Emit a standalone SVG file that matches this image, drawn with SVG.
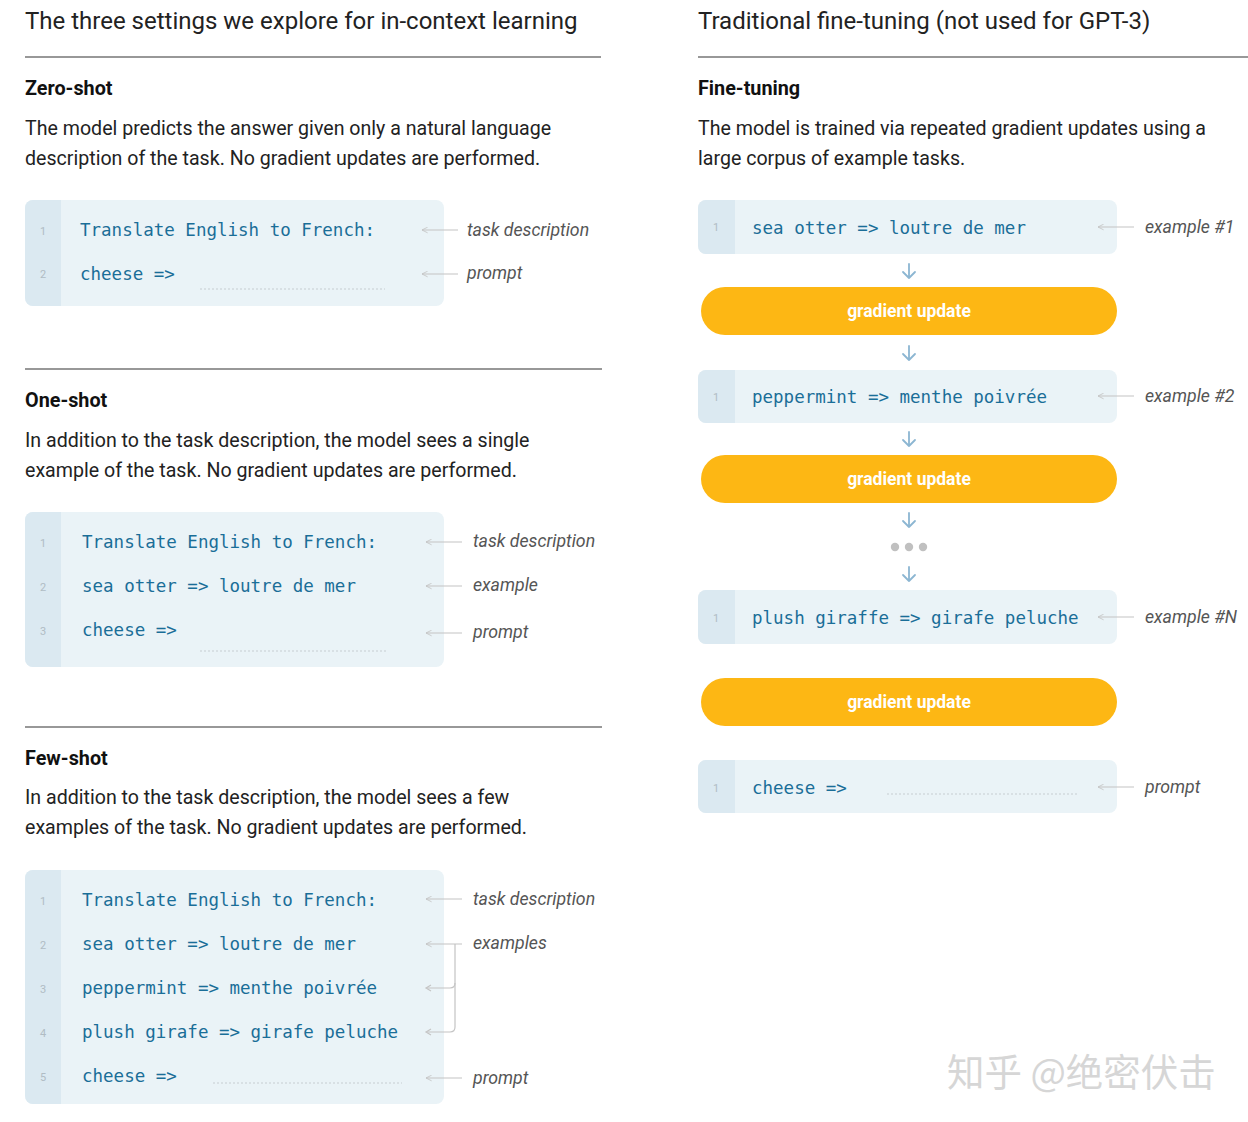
<svg xmlns="http://www.w3.org/2000/svg" width="1248" height="1122" viewBox="0 0 1248 1122">
<style>
.title{font-family:Roboto,"Liberation Sans",sans-serif;font-size:24px;fill:#222}
.h{font-family:Roboto,"Liberation Sans",sans-serif;font-size:19.8px;font-weight:bold;fill:#111}
.body{font-family:Roboto,"Liberation Sans",sans-serif;font-size:19.6px;fill:#222}
.code{font-family:"DejaVu Sans Mono","Liberation Mono",monospace;font-size:17.5px;fill:#1a6e98}
.ln{font-family:Roboto,"Liberation Sans",sans-serif;font-size:11px;fill:#b0bcc4}
.lab{font-family:Roboto,"Liberation Sans",sans-serif;font-size:17.7px;font-style:italic;fill:#555}
.sep{stroke:#333;stroke-width:1.2}
.box{fill:#eaf3f7}
.gut{fill:#dbe9f1}
.dot{stroke:#c5cdd2;stroke-width:1.2;stroke-dasharray:2 2;fill:none}
.ptr{stroke:#c4c4c4;stroke-width:1.2;fill:none}
.down{stroke:#8cb6d2;stroke-width:1.8;fill:none;stroke-linecap:round;stroke-linejoin:round}
.pill{fill:#fdb714}
.pt{font-family:Roboto,"Liberation Sans",sans-serif;font-size:17.5px;font-weight:bold;fill:#fff}
.wm{font-family:"Noto Sans CJK SC",sans-serif;font-size:37.5px;fill:#d6d6d6}
</style>
<defs>
<marker id="la" viewBox="0 0 10 10" refX="9" refY="5" markerWidth="7" markerHeight="7" orient="auto" markerUnits="userSpaceOnUse">
<path d="M1,1 L9,5 L1,9" fill="none" stroke="#c4c4c4" stroke-width="1.2"/>
</marker>
</defs>

<!-- Left column -->
<g id="left-header">
<text class="title" x="25" y="29">The three settings we explore for in-context learning</text>
<line class="sep" x1="25" y1="57" x2="601" y2="57"/>
</g>

<g id="zero-shot">
<text class="h" x="25" y="95">Zero-shot</text>
<text class="body" x="25" y="135">The model predicts the answer given only a natural language</text>
<text class="body" x="25" y="165">description of the task. No gradient updates are performed.</text>
<rect class="box" x="25" y="200" width="419" height="106" rx="8"/>
<path class="gut" d="M33,200 H61 V306 H33 A8,8 0 0 1 25,298 V208 A8,8 0 0 1 33,200 Z"/>
<text class="ln" x="43" y="235" text-anchor="middle">1</text>
<text class="ln" x="43" y="278" text-anchor="middle">2</text>
<text class="code" x="80" y="236">Translate English to French:</text>
<text class="code" x="80" y="280">cheese =&gt;</text>
<line class="dot" x1="200" y1="289" x2="385" y2="289"/>
<text class="lab" x="467" y="236">task description</text>
<text class="lab" x="467" y="279">prompt</text>
</g>

<line class="sep" x1="25" y1="369" x2="602" y2="369"/>

<g id="one-shot">
<text class="h" x="25" y="407">One-shot</text>
<text class="body" x="25" y="447">In addition to the task description, the model sees a single</text>
<text class="body" x="25" y="477">example of the task. No gradient updates are performed.</text>
<rect class="box" x="25" y="512" width="419" height="155" rx="8"/>
<path class="gut" d="M33,512 H61 V667 H33 A8,8 0 0 1 25,659 V520 A8,8 0 0 1 33,512 Z"/>
<text class="ln" x="43" y="547" text-anchor="middle">1</text>
<text class="ln" x="43" y="591" text-anchor="middle">2</text>
<text class="ln" x="43" y="635" text-anchor="middle">3</text>
<text class="code" x="82" y="548">Translate English to French:</text>
<text class="code" x="82" y="592">sea otter =&gt; loutre de mer</text>
<text class="code" x="82" y="636">cheese =&gt;</text>
<line class="dot" x1="200" y1="651" x2="388" y2="651"/>
<text class="lab" x="473" y="547">task description</text>
<text class="lab" x="473" y="591">example</text>
<text class="lab" x="473" y="638">prompt</text>
</g>

<line class="sep" x1="25" y1="727" x2="602" y2="727"/>

<g id="few-shot">
<text class="h" x="25" y="765">Few-shot</text>
<text class="body" x="25" y="804">In addition to the task description, the model sees a few</text>
<text class="body" x="25" y="834">examples of the task. No gradient updates are performed.</text>
<rect class="box" x="25" y="870" width="419" height="234" rx="8"/>
<path class="gut" d="M33,870 H61 V1104 H33 A8,8 0 0 1 25,1096 V878 A8,8 0 0 1 33,870 Z"/>
<text class="ln" x="43" y="905" text-anchor="middle">1</text>
<text class="ln" x="43" y="949" text-anchor="middle">2</text>
<text class="ln" x="43" y="993" text-anchor="middle">3</text>
<text class="ln" x="43" y="1037" text-anchor="middle">4</text>
<text class="ln" x="43" y="1081" text-anchor="middle">5</text>
<text class="code" x="82" y="906">Translate English to French:</text>
<text class="code" x="82" y="950">sea otter =&gt; loutre de mer</text>
<text class="code" x="82" y="994">peppermint =&gt; menthe poivrée</text>
<text class="code" x="82" y="1038">plush girafe =&gt; girafe peluche</text>
<text class="code" x="82" y="1082">cheese =&gt;</text>
<line class="dot" x1="213" y1="1083" x2="402" y2="1083"/>
<text class="lab" x="473" y="905">task description</text>
<text class="lab" x="473" y="949">examples</text>
<text class="lab" x="473" y="1084">prompt</text>
</g>

<!-- Right column -->
<g id="right-header">
<text class="title" x="698" y="29">Traditional fine-tuning (not used for GPT-3)</text>
<line class="sep" x1="698" y1="57" x2="1248" y2="57"/>
<text class="h" x="698" y="95">Fine-tuning</text>
<text class="body" x="698" y="135">The model is trained via repeated gradient updates using a</text>
<text class="body" x="698" y="165">large corpus of example tasks.</text>
</g>

<g id="ft-example-1">
<rect class="box" x="698" y="200" width="419" height="54" rx="8"/>
<path class="gut" d="M706,200 H735 V254 H706 A8,8 0 0 1 698,246 V208 A8,8 0 0 1 706,200 Z"/>
<text class="ln" x="716" y="231" text-anchor="middle">1</text>
<text class="code" x="752" y="234">sea otter =&gt; loutre de mer</text>
<text class="lab" x="1145" y="233">example #1</text>
</g>

<g id="ft-update-1">
<rect class="pill" x="701" y="287" width="416" height="48" rx="24"/>
<text class="pt" x="909" y="317" text-anchor="middle">gradient update</text>
</g>

<g id="ft-example-2">
<rect class="box" x="698" y="370" width="419" height="53" rx="8"/>
<path class="gut" d="M706,370 H735 V423 H706 A8,8 0 0 1 698,415 V378 A8,8 0 0 1 706,370 Z"/>
<text class="ln" x="716" y="401" text-anchor="middle">1</text>
<text class="code" x="752" y="403">peppermint =&gt; menthe poivrée</text>
<text class="lab" x="1145" y="402">example #2</text>
</g>

<g id="ft-update-2">
<rect class="pill" x="701" y="455" width="416" height="48" rx="24"/>
<text class="pt" x="909" y="485" text-anchor="middle">gradient update</text>
</g>

<g id="ft-ellipsis">
<circle cx="895" cy="547" r="4.2" fill="#c0c0c0"/>
<circle cx="909" cy="547" r="4.2" fill="#c0c0c0"/>
<circle cx="923" cy="547" r="4.2" fill="#c0c0c0"/>
</g>

<g id="ft-example-n">
<rect class="box" x="698" y="590" width="419" height="54" rx="8"/>
<path class="gut" d="M706,590 H735 V644 H706 A8,8 0 0 1 698,636 V598 A8,8 0 0 1 706,590 Z"/>
<text class="ln" x="716" y="622" text-anchor="middle">1</text>
<text class="code" x="752" y="624">plush giraffe =&gt; girafe peluche</text>
<text class="lab" x="1145" y="623">example #N</text>
</g>

<g id="ft-update-3">
<rect class="pill" x="701" y="678" width="416" height="48" rx="24"/>
<text class="pt" x="909" y="708" text-anchor="middle">gradient update</text>
</g>

<g id="ft-prompt">
<rect class="box" x="698" y="760" width="419" height="53" rx="8"/>
<path class="gut" d="M706,760 H735 V813 H706 A8,8 0 0 1 698,805 V768 A8,8 0 0 1 706,760 Z"/>
<text class="ln" x="716" y="792" text-anchor="middle">1</text>
<text class="code" x="752" y="794">cheese =&gt;</text>
<line class="dot" x1="887" y1="794" x2="1078" y2="794"/>
<text class="lab" x="1145" y="793">prompt</text>
</g>

<g id="connectors">
<line class="ptr" x1="458" y1="230" x2="422" y2="230" marker-end="url(#la)"/>
<line class="ptr" x1="458" y1="274" x2="422" y2="274" marker-end="url(#la)"/>
<line class="ptr" x1="462" y1="542" x2="426" y2="542" marker-end="url(#la)"/>
<line class="ptr" x1="462" y1="586" x2="426" y2="586" marker-end="url(#la)"/>
<line class="ptr" x1="462" y1="633" x2="426" y2="633" marker-end="url(#la)"/>
<line class="ptr" x1="462" y1="899" x2="426" y2="899" marker-end="url(#la)"/>
<line class="ptr" x1="462" y1="944" x2="426" y2="944" marker-end="url(#la)"/>
<path class="ptr" d="M455,944 V1027 Q455,1032 450,1032 H427"/>
<path class="ptr" d="M455,983 Q455,988 450,988 H427"/>
<path class="ptr" d="M431,985 L426,988 L431,991"/>
<path class="ptr" d="M431,1029 L426,1032 L431,1035"/>
<line class="ptr" x1="462" y1="1078" x2="426" y2="1078" marker-end="url(#la)"/>
<line class="ptr" x1="1134" y1="227" x2="1098" y2="227" marker-end="url(#la)"/>
<line class="ptr" x1="1134" y1="396" x2="1098" y2="396" marker-end="url(#la)"/>
<line class="ptr" x1="1134" y1="617" x2="1098" y2="617" marker-end="url(#la)"/>
<line class="ptr" x1="1134" y1="787" x2="1098" y2="787" marker-end="url(#la)"/>
<path class="down" d="M909,264 V278 M903,272 L909,278 L915,272"/>
<path class="down" d="M909,346 V360 M903,354 L909,360 L915,354"/>
<path class="down" d="M909,432 V446 M903,440 L909,446 L915,440"/>
<path class="down" d="M909,513 V527 M903,521 L909,527 L915,521"/>
<path class="down" d="M909,567 V581 M903,575 L909,581 L915,575"/>
</g>

<text class="wm" x="947" y="1086">知乎 @绝密伏击</text>
</svg>
